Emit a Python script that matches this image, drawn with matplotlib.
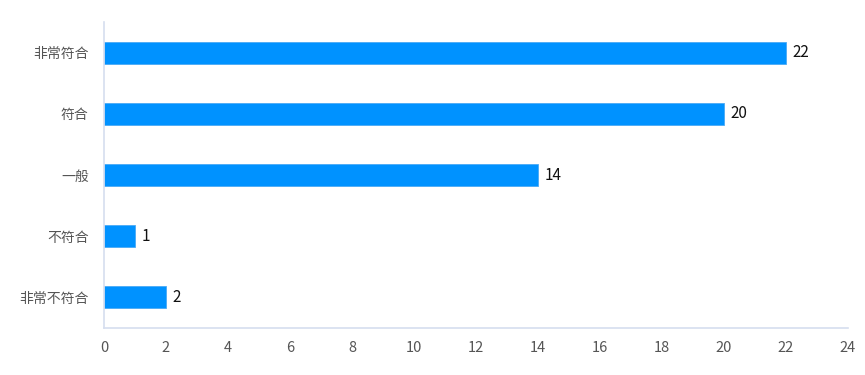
import matplotlib.pyplot as plt

plt.rcParams['font.family'] = ['Noto Sans CJK SC', 'DejaVu Sans']

categories = ["非常不符合", "不符合", "一般", "符合", "非常符合"]
counts = [2, 1, 14, 20, 22]
xticks = list(range(0, 25, 2))

fig = plt.figure(figsize=(8.65, 3.75), dpi=100)
ax = fig.add_axes([104/865, 47/375, 744/865, 306/375])

bars = ax.barh(categories, counts, height=0.36, color="#0092ff", edgecolor="#4aaaf5", linewidth=0.6)
for b, v in zip(bars, counts):
    ax.text(b.get_width() + 0.2, b.get_y() + b.get_height()/2, str(v),
            va="center", ha="left", fontsize=11, color="#111111")

ax.set_xlim(0, 24)
ax.set_ylim(-0.5, 4.5)
ax.set_xticks(xticks)
ax.tick_params(axis="both", length=0, colors="#555555", labelsize=10)
ax.tick_params(axis="x", pad=9, labelsize=10.5)
ax.tick_params(axis="y", pad=11)

for s in ["top", "right"]:
    ax.spines[s].set_visible(False)
ax.spines["left"].set_color("#d6deef")
ax.spines["bottom"].set_color("#d6deef")
ax.spines["left"].set_linewidth(1.2)
ax.spines["bottom"].set_linewidth(1.2)

fig.savefig("out.png", dpi=100)
